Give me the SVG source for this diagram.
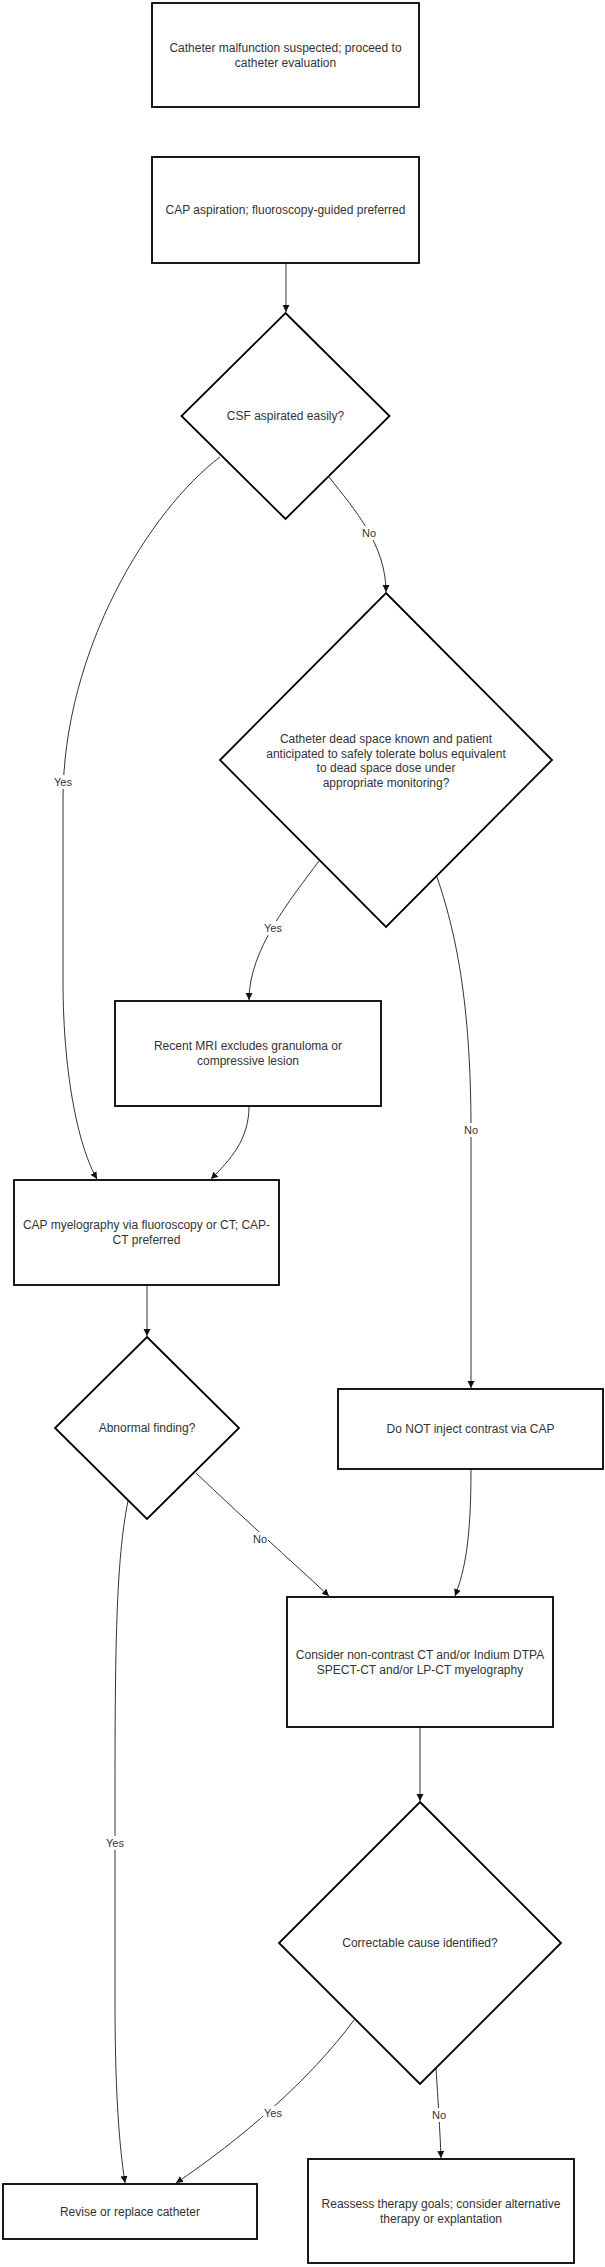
<svg xmlns="http://www.w3.org/2000/svg" width="605" height="2267" viewBox="0 0 605 2267">
<style>
.n{fill:#fff;stroke:#000;stroke-width:1.8}
.t{font-family:"Liberation Sans",Arial,sans-serif;font-size:12px;fill:#333;text-anchor:middle}
.e{fill:none;stroke:#333;stroke-width:1}
.lb{fill:#fff}
.lt{font-family:"Liberation Sans",Arial,sans-serif;font-size:11px;fill:#333;text-anchor:middle}
</style>
<defs>
<marker id="ah" markerUnits="userSpaceOnUse" markerWidth="8" markerHeight="8" refX="7" refY="3.5" orient="auto">
<path d="M0,0 L7,3.5 L0,7 z" fill="#111"/>
</marker>
</defs>
<rect width="605" height="2267" fill="#fff"/>
<g id="connectors">
<path class="e" d="M286,263 L286,312" marker-end="url(#ah)"/>
<path class="e" d="M329,477 C355,510 386,545 386,592" marker-end="url(#ah)"/>
<path class="e" d="M220,457 C150,510 63,650 63,800 L63,980 C63,1080 80,1150 97,1179" marker-end="url(#ah)"/>
<path class="e" d="M319,861 C290,900 249,950 249,1000" marker-end="url(#ah)"/>
<path class="e" d="M437,877 C455,930 471,1000 471,1130 L471,1388" marker-end="url(#ah)"/>
<path class="e" d="M249,1106 C249,1140 230,1160 211,1179" marker-end="url(#ah)"/>
<path class="e" d="M147,1285 L147,1336" marker-end="url(#ah)"/>
<path class="e" d="M196,1473 C240,1515 290,1560 329,1596" marker-end="url(#ah)"/>
<path class="e" d="M471,1469 C471,1540 465,1570 455,1596" marker-end="url(#ah)"/>
<path class="e" d="M128,1501 C116,1560 115,1650 115,1800 L115,2000 C115,2100 120,2150 125,2183" marker-end="url(#ah)"/>
<path class="e" d="M420,1727 L420,1801" marker-end="url(#ah)"/>
<path class="e" d="M354,2020 C310,2080 240,2140 176,2183" marker-end="url(#ah)"/>
<path class="e" d="M436,2068 C438,2100 440,2130 441,2158" marker-end="url(#ah)"/>
<rect class="lb" x="361" y="526" width="16" height="14"/><text class="lt" x="369" y="537">No</text>
<rect class="lb" x="53" y="775" width="20" height="14"/><text class="lt" x="63" y="786">Yes</text>
<rect class="lb" x="263" y="921" width="20" height="14"/><text class="lt" x="273" y="932">Yes</text>
<rect class="lb" x="463" y="1123" width="16" height="14"/><text class="lt" x="471" y="1134">No</text>
<rect class="lb" x="252" y="1532" width="16" height="14"/><text class="lt" x="260" y="1543">No</text>
<rect class="lb" x="105" y="1836" width="20" height="14"/><text class="lt" x="115" y="1847">Yes</text>
<rect class="lb" x="263" y="2106" width="20" height="14"/><text class="lt" x="273" y="2117">Yes</text>
<rect class="lb" x="431" y="2108" width="16" height="14"/><text class="lt" x="439" y="2119">No</text>
</g>
<g id="n1"><rect class="n" x="152" y="3" width="267" height="104"/>
<text class="t" x="285.5" y="52">Catheter malfunction suspected; proceed to</text>
<text class="t" x="285.5" y="67">catheter evaluation</text></g>
<g id="n2"><rect class="n" x="152" y="157" width="267" height="106"/>
<text class="t" x="285.5" y="214">CAP aspiration; fluoroscopy-guided preferred</text></g>
<g id="d1"><polygon class="n" points="285.5,313 389.5,416 285.5,519 181.5,416"/>
<text class="t" x="285.5" y="420">CSF aspirated easily?</text></g>
<g id="d2"><polygon class="n" points="386,593 552,760 386,927 220,760"/>
<text class="t" x="386" y="743">Catheter dead space known and patient</text>
<text class="t" x="386" y="757.5">anticipated to safely tolerate bolus equivalent</text>
<text class="t" x="386" y="772">to dead space dose under</text>
<text class="t" x="386" y="786.5">appropriate monitoring?</text></g>
<g id="n3"><rect class="n" x="115" y="1001" width="266" height="105"/>
<text class="t" x="248" y="1050">Recent MRI excludes granuloma or</text>
<text class="t" x="248" y="1065">compressive lesion</text></g>
<g id="n4"><rect class="n" x="14" y="1180" width="265" height="105"/>
<text class="t" x="146.5" y="1229">CAP myelography via fluoroscopy or CT; CAP-</text>
<text class="t" x="146.5" y="1244">CT preferred</text></g>
<g id="d4"><polygon class="n" points="147,1337 239,1428 147,1519 55,1428"/>
<text class="t" x="147" y="1432">Abnormal finding?</text></g>
<g id="n5"><rect class="n" x="338" y="1389" width="265" height="80"/>
<text class="t" x="470.5" y="1433">Do NOT inject contrast via CAP</text></g>
<g id="n6"><rect class="n" x="287" y="1597" width="266" height="130"/>
<text class="t" x="420" y="1658.5">Consider non-contrast CT and/or Indium DTPA</text>
<text class="t" x="420" y="1673.5">SPECT-CT and/or LP-CT myelography</text></g>
<g id="d3"><polygon class="n" points="420,1802 561,1943 420,2084 279,1943"/>
<text class="t" x="420" y="1947">Correctable cause identified?</text></g>
<g id="n7"><rect class="n" x="3" y="2184" width="254" height="55"/>
<text class="t" x="130" y="2216">Revise or replace catheter</text></g>
<g id="n8"><rect class="n" x="308" y="2159" width="266" height="104"/>
<text class="t" x="441" y="2208">Reassess therapy goals; consider alternative</text>
<text class="t" x="441" y="2223">therapy or explantation</text></g>
</svg>
